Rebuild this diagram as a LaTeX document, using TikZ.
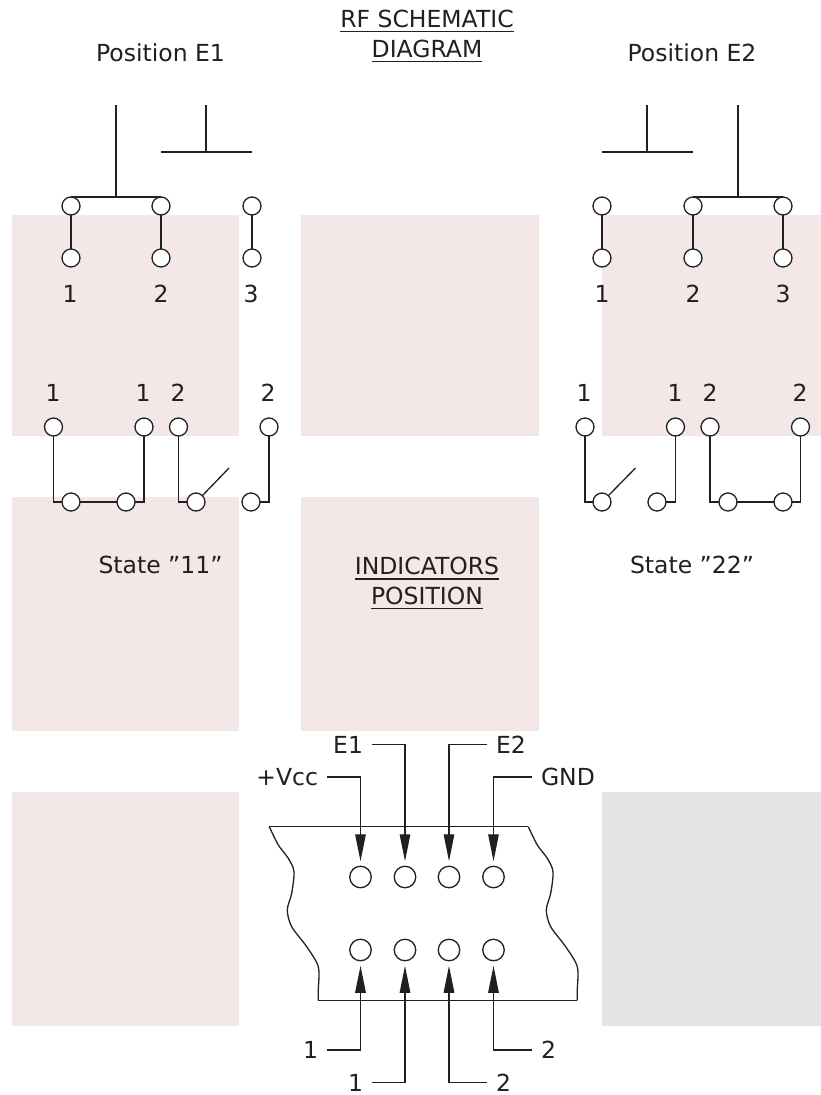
\documentclass[tikz,border=0pt]{standalone}
\usepackage{fontspec}
\setmainfont{DejaVu Sans}
\newcommand*{\widefont}{\fontsize{23.5}{28}\selectfont}
\definecolor{ink}{HTML}{231F20}
\definecolor{lightpink}{HTML}{F4E7E7}
\definecolor{lightgrey}{HTML}{E4E4E4}
\usetikzlibrary{arrows.meta}
\tikzstyle{base}=[x=1pt, y=-1pt, inner sep=0pt, outer sep=0pt, line width=1.3pt, ink]
\tikzstyle{lbl}=[text=ink, text height=17pt, text depth=0pt]
\tikzstyle{heading}=[lbl, inner ysep=4.5pt]
\tikzstyle{contact}=[circle, draw, fill=white, minimum size=18pt]
\tikzstyle{socket}=[circle, draw, fill=white, minimum size=21.5pt]
\tikzstyle{lead}=[-{Stealth[length=27pt, width=10.5pt, inset=0pt]}, shorten <=9pt, shorten >=5pt]
\newcommand*{\sidewave}{plot [smooth] coordinates {(269.3,826.7) (278.3,845) (288.3,858.3) (294,871.7) (291.7,893.3) (287.3,910) (291.7,926.7) (306.7,946.7) (318.3,966.7) (318.3,990) (318.3,1000.3)}}

\begin{document}
\begin{tikzpicture}[base]
    \widefont
        \path [use as bounding box] (0,0) rectangle (821,1095);
        \fill [lightpink] (12,215) rectangle (239,436);
        \fill [lightpink] (301,215) rectangle (539,436);
        \fill [lightpink] (602,215) rectangle (821,436);
        \fill [lightpink] (12,497) rectangle (239,731);
        \fill [lightpink] (301,497) rectangle (539,731);
        \fill [lightpink] (12,792) rectangle (239,1026);
        \fill [lightgrey] (602,792) rectangle (821,1026);

        \node [heading] (rftitle) at (427,18.5) {RF SCHEMATIC};
        \node [heading] (diagramtitle) at (427,48.5) {DIAGRAM};
        \node [heading] (indicatorstitle) at (427,566) {INDICATORS};
        \node [heading] (positiontitle) at (427,595.5) {POSITION};
        \draw (rftitle.south west) -- (rftitle.south east);
        \draw (diagramtitle.south west) -- (diagramtitle.south east);
        \draw (indicatorstitle.south west) -- (indicatorstitle.south east);
        \draw (positiontitle.south west) -- (positiontitle.south east);

        \node [lbl] (posleft) at (160.5,53) {Position E1};
        \node [lbl] (posright) at (692,53) {Position E2};
        \node [lbl] (stateleft) at (160.5,565) {State "11"};
        \node [lbl] (stateright) at (692,565) {State "22"};

        % position E1
        \node [contact] (la1) at (71,206) {};
        \node [contact] (la2) at (161,206) {};
        \node [contact] (la3) at (252,206) {};
        \node [contact] (lb1) at (71,258) {};
        \node [contact] (lb2) at (161,258) {};
        \node [contact] (lb3) at (252,258) {};
        \node [lbl] at (70,294) {1};
        \node [lbl] at (161,294) {2};
        \node [lbl] at (251,294) {3};
        \coordinate (lfeedone) at (116,105);
        \coordinate (lfeedtwo) at (206,105);
        \coordinate (lbarstart) at (161,152);
        \coordinate (lbarend) at (252,152);
        \draw (la1) -- (lb1);
        \draw (la2) -- (lb2);
        \draw (la3) -- (lb3);
        \draw (la1.north) -- (la2.north);
        \draw (lfeedone) -- (lfeedone |- la1.north);
        \draw (lbarstart) -- (lbarend);
        \draw (lfeedtwo) -- (lfeedtwo |- lbarstart);

        % position E2
        \node [contact] (ra1) at (602,206) {};
        \node [contact] (ra2) at (693,206) {};
        \node [contact] (ra3) at (783,206) {};
        \node [contact] (rb1) at (602,258) {};
        \node [contact] (rb2) at (693,258) {};
        \node [contact] (rb3) at (783,258) {};
        \node [lbl] at (602,294) {1};
        \node [lbl] at (693,294) {2};
        \node [lbl] at (783,294) {3};
        \coordinate (rfeedone) at (647,105);
        \coordinate (rfeedtwo) at (738,105);
        \coordinate (rbarstart) at (602,152);
        \coordinate (rbarend) at (693,152);
        \draw (ra1) -- (rb1);
        \draw (ra2) -- (rb2);
        \draw (ra3) -- (rb3);
        \draw (ra2.north) -- (ra3.north);
        \draw (rfeedtwo) -- (rfeedtwo |- ra2.north);
        \draw (rbarstart) -- (rbarend);
        \draw (rfeedone) -- (rfeedone |- rbarstart);

        % state 11
        \node [contact] (lc1) at (53.5,427) {};
        \node [contact] (lc2) at (144,427) {};
        \node [contact] (lc3) at (178.5,427) {};
        \node [contact] (lc4) at (269,427) {};
        \node [contact] (ld1) at (71,502) {};
        \node [contact] (ld2) at (126,502) {};
        \node [contact] (ld3) at (196,502) {};
        \node [contact] (ld4) at (251,502) {};
        \node [lbl] at (53,393) {1};
        \node [lbl] at (143,393) {1};
        \node [lbl] at (178,393) {2};
        \node [lbl] at (268,393) {2};
        \coordinate (lswitch) at (229,468);
        \draw (lc1.south) |- (ld1.west);
        \draw (ld1.east) -- (ld2.west);
        \draw (ld2.east) -| (lc2.south);
        \draw (lc3.south) |- (ld3.west);
        \draw (ld3.45) -- (lswitch);
        \draw (ld4.east) -| (lc4.south);

        % state 22
        \node [contact] (rc1) at (585,427) {};
        \node [contact] (rc2) at (675.5,427) {};
        \node [contact] (rc3) at (710,427) {};
        \node [contact] (rc4) at (800.5,427) {};
        \node [contact] (rd1) at (602,502) {};
        \node [contact] (rd2) at (657,502) {};
        \node [contact] (rd3) at (728,502) {};
        \node [contact] (rd4) at (783,502) {};
        \node [lbl] at (584,393) {1};
        \node [lbl] at (675,393) {1};
        \node [lbl] at (710,393) {2};
        \node [lbl] at (800,393) {2};
        \coordinate (rswitch) at (635.5,468);
        \draw (rc1.south) |- (rd1.west);
        \draw (rd1.45) -- (rswitch);
        \draw (rd2.east) -| (rc2.south);
        \draw (rc3.south) |- (rd3.west);
        \draw (rd3.east) -- (rd4.west);
        \draw (rd4.east) -| (rc4.south);

        % connector
        \draw (269.3,826.7) -- (528.3,826.7);
        \draw (318.3,1000.3) -- (577.3,1000.3);
        \draw \sidewave;
        \draw [xshift=259pt] \sidewave;
        \node [socket] (sa1) at (360.5,877) {};
        \node [socket] (sa2) at (405,877) {};
        \node [socket] (sa3) at (449,877) {};
        \node [socket] (sa4) at (493.5,877) {};
        \node [socket] (sb1) at (360.5,950) {};
        \node [socket] (sb2) at (405,950) {};
        \node [socket] (sb3) at (449,950) {};
        \node [socket] (sb4) at (493.5,950) {};
        \node [lbl, anchor=east] (vcc) at (318,777) {+Vcc};
        \node [lbl, anchor=east] (eone) at (363,744.5) {E1};
        \node [lbl, anchor=west] (etwo) at (496,744.5) {E2};
        \node [lbl, anchor=west] (gnd) at (541,777) {GND};
        \node [lbl, anchor=east] (oneleft) at (318,1050) {1};
        \node [lbl, anchor=east] (oneright) at (363,1082.5) {1};
        \node [lbl, anchor=west] (twoleft) at (496,1082.5) {2};
        \node [lbl, anchor=west] (tworight) at (541,1050) {2};
        \draw [lead] (vcc.east) -| (sa1.north);
        \draw [lead] (eone.east) -| (sa2.north);
        \draw [lead] (etwo.west) -| (sa3.north);
        \draw [lead] (gnd.west) -| (sa4.north);
        \draw [lead] (oneleft.east) -| (sb1.south);
        \draw [lead] (oneright.east) -| (sb2.south);
        \draw [lead] (twoleft.west) -| (sb3.south);
        \draw [lead] (tworight.west) -| (sb4.south);
    \end{tikzpicture}
\end{document}
